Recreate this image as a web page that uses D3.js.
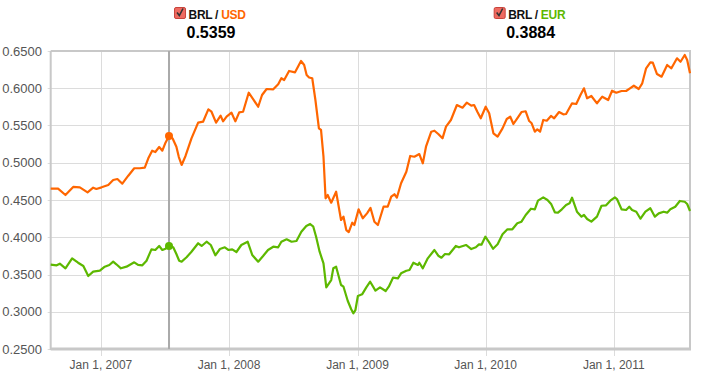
<!DOCTYPE html>
<html>
<head>
<meta charset="utf-8">
<script src="https://cdn.jsdelivr.net/npm/d3@7/dist/d3.min.js"></script>
<style>
  html, body { margin: 0; padding: 0; background: #fff; }
  svg { display: block; font-family: "Liberation Sans", Arial, sans-serif; }
</style>
</head>
<body>
<svg id="chart" width="706" height="384"></svg>
<script>
// ---------- DATA ----------
const usdDates = ["2006-08-11","2006-09-01","2006-09-22","2006-10-14","2006-11-02","2006-11-24","2006-12-10","2006-12-19",
"2007-01-03","2007-01-22","2007-02-05","2007-02-17","2007-03-03","2007-03-20","2007-04-06","2007-04-22","2007-05-06","2007-05-16",
"2007-05-27","2007-06-05","2007-06-16","2007-06-25","2007-07-04","2007-07-14","2007-07-24","2007-08-04","2007-08-11","2007-08-19",
"2007-08-30","2007-09-16","2007-10-05","2007-10-19","2007-11-03","2007-11-12","2007-11-25","2007-12-08","2007-12-15","2007-12-25",
"2008-01-08","2008-01-19","2008-01-30","2008-02-10","2008-02-26","2008-03-10","2008-03-24","2008-04-04","2008-04-17","2008-05-06",
"2008-05-20","2008-05-29","2008-06-06","2008-06-20","2008-07-07","2008-07-24","2008-08-02","2008-08-09","2008-08-16","2008-08-25",
"2008-09-03","2008-09-13","2008-09-19","2008-09-26","2008-10-02","2008-10-08","2008-10-18","2008-11-01","2008-11-15","2008-11-22",
"2008-11-30","2008-12-07","2008-12-17","2008-12-23","2009-01-04","2009-01-16","2009-01-28","2009-02-07","2009-02-18","2009-02-28",
"2009-03-16","2009-03-28","2009-04-07","2009-04-16","2009-04-23","2009-05-05","2009-05-20","2009-05-31","2009-06-12","2009-06-26",
"2009-07-06","2009-07-15","2009-07-30","2009-08-08","2009-08-19","2009-08-31","2009-09-10","2009-09-24","2009-10-11","2009-10-27",
"2009-11-08","2009-11-21","2009-11-29","2009-12-09","2009-12-18","2010-01-01","2010-01-11","2010-01-23","2010-02-04","2010-02-18",
"2010-03-02","2010-03-12","2010-03-21","2010-04-01","2010-04-13","2010-04-25","2010-05-05","2010-05-12","2010-05-21","2010-05-28",
"2010-06-05","2010-06-14","2010-06-24","2010-07-06","2010-07-15","2010-07-29","2010-08-10","2010-08-18","2010-09-04","2010-09-16",
"2010-09-28","2010-10-08","2010-10-17","2010-10-29","2010-11-14","2010-11-29","2010-12-16","2010-12-27","2011-01-08","2011-01-23",
"2011-02-05","2011-02-16","2011-02-27","2011-03-13","2011-03-23","2011-04-03","2011-04-15","2011-04-22","2011-05-04","2011-05-17",
"2011-06-02","2011-06-14","2011-06-30","2011-07-10","2011-07-22","2011-07-29","2011-08-06"];
const usdValues = [0.4652,0.4652,0.4567,0.4675,0.4670,0.4603,0.4665,0.4648,
0.4670,0.4701,0.4768,0.4782,0.4719,0.4826,0.4926,0.4926,0.4934,0.5060,
0.5162,0.5144,0.5211,0.5162,0.5269,0.5359,0.5328,0.5215,0.5077,0.4970,
0.5091,0.5328,0.5538,0.5551,0.5717,0.5685,0.5538,0.5632,0.5556,0.5618,
0.5672,0.5556,0.5677,0.5685,0.5940,0.5852,0.5752,0.5909,0.5990,0.5986,
0.6053,0.6134,0.6111,0.6232,0.6214,0.6366,0.6312,0.6178,0.6144,0.6134,
0.5842,0.5462,0.5440,0.5081,0.4523,0.4567,0.4464,0.4611,0.4232,0.4276,
0.4097,0.4070,0.4195,0.4164,0.4375,0.4254,0.4321,0.4393,0.4209,0.4164,
0.4410,0.4410,0.4544,0.4577,0.4531,0.4724,0.4880,0.5091,0.5081,0.5117,
0.4993,0.5215,0.5417,0.5430,0.5386,0.5328,0.5484,0.5574,0.5775,0.5739,
0.5806,0.5766,0.5775,0.5677,0.5597,0.5752,0.5664,0.5395,0.5350,0.5462,
0.5587,0.5618,0.5520,0.5597,0.5681,0.5691,0.5560,0.5530,0.5417,0.5449,
0.5417,0.5574,0.5564,0.5628,0.5597,0.5681,0.5650,0.5654,0.5798,0.5789,
0.5909,0.5999,0.5865,0.5896,0.5798,0.5887,0.5842,0.5967,0.5940,0.5963,
0.5963,0.5999,0.6034,0.5990,0.6066,0.6268,0.6348,0.6343,0.6191,0.6155,
0.6312,0.6268,0.6402,0.6356,0.6446,0.6379,0.6201];

const eurDates = ["2006-08-11","2006-08-28","2006-09-06","2006-09-22","2006-10-11","2006-10-28","2006-11-12","2006-11-26","2006-12-10","2006-12-29",
"2007-01-12","2007-01-25","2007-02-05","2007-02-14","2007-02-27","2007-03-15","2007-04-06","2007-04-17","2007-04-29","2007-05-11",
"2007-05-25","2007-06-05","2007-06-16","2007-06-25","2007-07-04","2007-07-14","2007-07-26","2007-08-04","2007-08-12","2007-08-19",
"2007-09-02","2007-09-16","2007-10-05","2007-10-15","2007-10-29","2007-11-10","2007-11-23","2007-12-06","2007-12-20","2007-12-30",
"2008-01-10","2008-01-22","2008-02-05","2008-02-23","2008-03-07","2008-03-24","2008-04-07","2008-04-21","2008-05-06","2008-05-20",
"2008-05-29","2008-06-13","2008-06-27","2008-07-11","2008-07-25","2008-08-08","2008-08-19","2008-08-28","2008-09-05","2008-09-15",
"2008-09-26","2008-10-04","2008-10-18","2008-10-24","2008-11-01","2008-11-15","2008-11-22","2008-12-04","2008-12-14","2008-12-20",
"2008-12-26","2009-01-02","2009-01-14","2009-01-26","2009-02-06","2009-02-21","2009-03-06","2009-03-22","2009-03-31","2009-04-12",
"2009-04-26","2009-05-05","2009-05-20","2009-05-29","2009-06-09","2009-06-22","2009-06-26","2009-07-06","2009-07-20","2009-08-08",
"2009-08-19","2009-08-28","2009-09-07","2009-09-19","2009-10-08","2009-10-17","2009-11-06","2009-11-21","2009-12-04","2009-12-13",
"2009-12-20","2009-12-31","2010-01-11","2010-01-22","2010-02-04","2010-02-18","2010-03-04","2010-03-18","2010-04-01","2010-04-13",
"2010-04-25","2010-05-10","2010-05-21","2010-05-30","2010-06-14","2010-06-26","2010-07-07","2010-07-17","2010-07-26","2010-08-06",
"2010-08-18","2010-08-28","2010-09-04","2010-09-18","2010-10-01","2010-10-08","2010-10-17","2010-10-29","2010-11-14","2010-11-27",
"2010-12-10","2010-12-22","2011-01-04","2011-01-10","2011-01-23","2011-02-05","2011-02-14","2011-02-22","2011-03-06","2011-03-18",
"2011-04-01","2011-04-15","2011-04-28","2011-05-09","2011-05-23","2011-06-02","2011-06-11","2011-06-25","2011-07-08","2011-07-22",
"2011-07-29","2011-08-06"];
const eurValues = [0.3632,0.3623,0.3645,0.3583,0.3717,0.3658,0.3614,0.3480,0.3538,0.3551,
0.3605,0.3628,0.3672,0.3637,0.3583,0.3605,0.3664,0.3628,0.3623,0.3685,
0.3838,0.3829,0.3883,0.3829,0.3846,0.3884,0.3865,0.3775,0.3685,0.3672,
0.3731,0.3806,0.3919,0.3883,0.3940,0.3896,0.3758,0.3842,0.3865,0.3829,
0.3838,0.3802,0.3896,0.3940,0.3762,0.3672,0.3748,0.3829,0.3873,0.3865,
0.3940,0.3972,0.3940,0.3950,0.4075,0.4151,0.4178,0.4142,0.4007,0.3806,
0.3650,0.3328,0.3426,0.3583,0.3605,0.3359,0.3336,0.3148,0.3033,0.2979,
0.3023,0.3211,0.3234,0.3328,0.3403,0.3283,0.3328,0.3278,0.3336,0.3457,
0.3449,0.3516,0.3551,0.3560,0.3658,0.3628,0.3658,0.3583,0.3717,0.3829,
0.3752,0.3725,0.3775,0.3771,0.3883,0.3865,0.3896,0.3842,0.3865,0.3905,
0.3900,0.4007,0.3932,0.3846,0.3905,0.4040,0.4107,0.4107,0.4187,0.4209,
0.4299,0.4383,0.4375,0.4491,0.4536,0.4500,0.4442,0.4335,0.4330,0.4375,
0.4433,0.4456,0.4531,0.4343,0.4276,0.4299,0.4245,0.4209,0.4276,0.4423,
0.4429,0.4491,0.4536,0.4513,0.4375,0.4366,0.4410,0.4366,0.4343,0.4249,
0.4343,0.4389,0.4276,0.4321,0.4343,0.4330,0.4375,0.4410,0.4487,0.4477,
0.4446,0.4352];

const seriesNames = ["USD", "EUR"];
const baseName = "BRL";
const yTicks = [0.25, 0.30, 0.35, 0.40, 0.45, 0.50, 0.55, 0.60, 0.65];
const xTickDates = ["2007-01-01","2008-01-01","2009-01-01","2010-01-01","2011-01-01"];
const xDomain = ["2006-08-11", "2011-08-06"];
const cursorDate = "2007-07-14";

// ---------- DRAW ----------
(function () {
const parse = d3.utcParse("%Y-%m-%d");
const colors = { USD: "#ff6600", EUR: "#5db800" };
const svg = d3.select("#chart");
const pLeft = 50.7, pRight = 690, pTop = 51, pBottom = 349;

const x = d3.scaleUtc().domain(xDomain.map(parse)).range([pLeft, pRight]);
const y = d3.scaleLinear().domain([0.25, 0.65]).range([pBottom, pTop]);

const series = [
  { name: seriesNames[0], data: usdDates.map((d, i) => ({ date: parse(d), value: usdValues[i] })) },
  { name: seriesNames[1], data: eurDates.map((d, i) => ({ date: parse(d), value: eurValues[i] })) }
];

// gridlines
const grid = svg.append("g");
grid.selectAll("line.h").data(yTicks).join("line")
  .attr("x1", pLeft - 3).attr("x2", pRight)
  .attr("y1", d => Math.round(y(d)) + 0.5).attr("y2", d => Math.round(y(d)) + 0.5)
  .attr("stroke", "#dcdcdc").attr("stroke-width", 1);
grid.selectAll("line.v").data(xTickDates.map(parse)).join("line")
  .attr("x1", d => Math.round(x(d)) + 0.5).attr("x2", d => Math.round(x(d)) + 0.5)
  .attr("y1", pTop).attr("y2", pBottom + 7)
  .attr("stroke", "#dcdcdc").attr("stroke-width", 1);

// frame
const frame = svg.append("g").attr("stroke", "#c8c8c8").attr("stroke-width", 2).attr("fill", "none");
frame.append("line").attr("x1", pLeft).attr("x2", pRight + 1).attr("y1", pTop).attr("y2", pTop);
frame.append("line").attr("x1", pRight).attr("x2", pRight).attr("y1", pTop).attr("y2", pBottom);
frame.append("line").attr("x1", pLeft).attr("x2", pLeft).attr("y1", pTop).attr("y2", pBottom + 1);
frame.append("line").attr("x1", pLeft).attr("x2", pRight + 1).attr("y1", pBottom).attr("y2", pBottom).attr("stroke-width", 3);

// y labels
svg.append("g").selectAll("text").data(yTicks).join("text")
  .attr("x", 42).attr("y", d => y(d))
  .attr("text-anchor", "end").attr("dominant-baseline", "central")
  .attr("font-size", 13).attr("fill", "#555")
  .text(d => d3.format(".4f")(d));

// x labels
const fmt = d3.utcFormat("%b %-d, %Y");
svg.append("g").selectAll("text").data(xTickDates.map(parse)).join("text")
  .attr("x", d => x(d)).attr("y", 369)
  .attr("text-anchor", "middle")
  .attr("font-size", 12).attr("fill", "#555")
  .text(d => fmt(d));

// cursor line
const cd = parse(cursorDate);
svg.append("line")
  .attr("x1", x(cd)).attr("x2", x(cd)).attr("y1", pTop).attr("y2", pBottom)
  .attr("stroke", "#aaaaaa").attr("stroke-width", 2);

// lines
const line = d3.line().x(d => x(d.date)).y(d => y(d.value));
svg.append("g").selectAll("path").data(series).join("path")
  .attr("d", d => line(d.data))
  .attr("fill", "none")
  .attr("stroke", d => colors[d.name])
  .attr("stroke-width", 2.2)
  .attr("stroke-linejoin", "round");

// cursor dots
const cursorVals = series.map(s => {
  const p = s.data.find(d => +d.date === +cd);
  return { name: s.name, value: p ? p.value : NaN };
});
svg.append("g").selectAll("circle").data(cursorVals).join("circle")
  .attr("cx", x(cd)).attr("cy", d => y(d.value)).attr("r", 4)
  .attr("fill", d => colors[d.name]);

// legend
const legendCenters = [pLeft + (pRight - pLeft) * 0.25, pLeft + (pRight - pLeft) * 0.75];
cursorVals.forEach((cv, i) => {
  const g = svg.append("g");
  const lx = legendCenters[i] - 36;
  g.append("rect").attr("x", lx).attr("y", 7.5).attr("width", 11).attr("height", 11).attr("rx", 1.5)
    .attr("fill", "#ee6a60").attr("stroke", "#c9443c").attr("stroke-width", 1);
  g.append("path").attr("d", `M${lx + 2.5},${12.5} L${lx + 4.8},${15.5} L${lx + 8.5},${8.5}`)
    .attr("fill", "none").attr("stroke", "#333").attr("stroke-width", 1.6);
  const t = g.append("text").attr("x", lx + 14).attr("y", 19)
    .attr("font-size", 12).attr("font-weight", "bold").attr("letter-spacing", -0.3);
  t.append("tspan").attr("fill", "#111").text(baseName + " / ");
  t.append("tspan").attr("fill", colors[cv.name]).text(cv.name);
  g.append("text").attr("x", lx + 12).attr("y", 37.5)
    .attr("font-size", 16).attr("font-weight", "bold").attr("fill", "#000")
    .text(d3.format(".4f")(cv.value));
});
})();
</script>
</body>
</html>
